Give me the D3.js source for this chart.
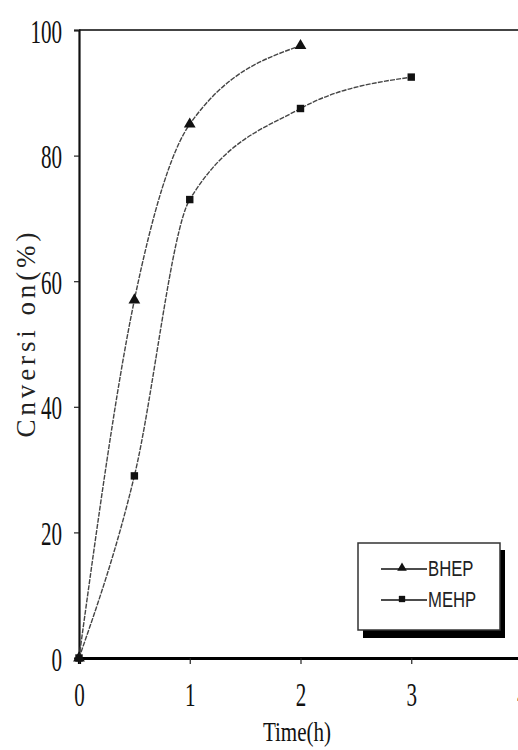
<!DOCTYPE html>
<html>
<head>
<meta charset="utf-8">
<script src="https://cdn.jsdelivr.net/npm/d3@7"></script>
<style>
  body { margin: 0; background: #fff; }
  svg { display: block; overflow: hidden; }
</style>
</head>
<body>
<div id="chart"></div>
<script>
// values
var timeH = [0, 0.5, 1, 2, 3]
var bhep = [0, 57, 85, 97.5]
var mehp = [0, 29, 73, 87.5, 92.5]
var xTicks = [0, 1, 2, 3, 4]
var yTicks = [0, 20, 40, 60, 80, 100]
var seriesNames = ['BHEP', 'MEHP']

var width_all = 518,
  height_all = 750

var svg = d3
  .select('#chart')
  .append('svg')
  .attr('width', width_all)
  .attr('height', height_all)

var x = d3.scaleLinear().domain([0, 4]).range([79, 522])
var y = d3.scaleLinear().domain([0, 100]).range([658, 30])

var series = [
  { name: seriesNames[0], values: bhep, symbol: d3.symbolTriangle },
  { name: seriesNames[1], values: mehp, symbol: d3.symbolSquare }
]

// top frame line
svg
  .append('line')
  .attr('x1', x(0))
  .attr('x2', width_all)
  .attr('y1', y(100))
  .attr('y2', y(100))
  .attr('stroke', '#444')
  .attr('stroke-width', 2.2)

// y axis
var yAxis = svg
  .append('g')
  .attr('transform', 'translate(' + x(0) + ',0)')
  .call(d3.axisLeft(y).tickValues(yTicks).tickSize(5).tickFormat(d3.format('d')))
yAxis.select('.domain').attr('stroke', '#111').attr('stroke-width', 2.2)
yAxis.selectAll('.tick line').attr('stroke', '#222').attr('stroke-width', 1.2)
yAxis
  .selectAll('.tick text')
  .attr('font-family', 'Liberation Serif, serif')
  .attr('font-size', 34)
  .attr('fill', '#111')
  .attr('x', 0)
  .attr('dy', 0)
  .attr('text-anchor', 'end')
  .attr('transform', 'translate(-17,12) scale(0.62,1)')

// x axis
var xAxis = svg
  .append('g')
  .attr('transform', 'translate(0,' + y(0) + ')')
  .call(d3.axisBottom(x).tickValues(xTicks).tickSize(6).tickFormat(d3.format('d')))
xAxis.select('.domain').attr('stroke', '#000').attr('stroke-width', 3.2)
xAxis.selectAll('.tick line').attr('stroke', '#222').attr('stroke-width', 1.2)
xAxis
  .selectAll('.tick text')
  .attr('font-family', 'Liberation Serif, serif')
  .attr('font-size', 34)
  .attr('fill', '#111')
  .attr('y', 0)
  .attr('dy', 0)
  .attr('transform', 'translate(0,48) scale(0.62,1)')

// axis titles
svg
  .append('text')
  .attr('transform', 'translate(297,741) scale(0.78,1)')
  .attr('text-anchor', 'middle')
  .attr('font-family', 'Liberation Serif, serif')
  .attr('font-size', 27)
  .attr('fill', '#111')
  .text('Time(h)')

svg
  .append('text')
  .attr('transform', 'translate(35,335) rotate(-90)')
  .attr('text-anchor', 'middle')
  .attr('font-family', 'Liberation Serif, serif')
  .attr('font-size', 27)
  .attr('fill', '#222')
  .attr('textLength', 205)
  .attr('lengthAdjust', 'spacing')
  .text('Cnversi on(%)')

// curves
var line = d3
  .line()
  .x((d, i) => x(timeH[i]))
  .y(d => y(d))
  .curve(d3.curveMonotoneX)

series.forEach(s => {
  svg
    .append('path')
    .datum(s.values)
    .attr('fill', 'none')
    .attr('stroke', '#444')
    .attr('stroke-width', 1.4)
    .attr('stroke-dasharray', '5,1.2')
    .attr('d', line)

  svg
    .append('g')
    .selectAll('path')
    .data(s.values)
    .enter()
    .append('path')
    .attr('transform', (d, i) => 'translate(' + x(timeH[i]) + ',' + y(d) + ')')
    .attr('d', d3.symbol().type(s.symbol).size(s.symbol === d3.symbolSquare ? 55 : 60))
    .attr('fill', '#111')
})

// legend with drop shadow
var legend = svg.append('g').attr('transform', 'translate(358,543)')
legend
  .append('rect')
  .attr('x', 5)
  .attr('y', 7)
  .attr('width', 142)
  .attr('height', 88)
  .attr('fill', '#000')
legend
  .append('rect')
  .attr('width', 142)
  .attr('height', 87)
  .attr('fill', '#fff')
  .attr('stroke', '#333')
  .attr('stroke-width', 1.5)

var item = legend
  .selectAll('g.item')
  .data(series)
  .enter()
  .append('g')
  .attr('class', 'item')
  .attr('transform', (d, i) => 'translate(0,' + (26 + i * 31) + ')')

item
  .append('line')
  .attr('x1', 23)
  .attr('x2', 69)
  .attr('stroke', '#111')
  .attr('stroke-width', 1.6)
item
  .append('path')
  .attr('transform', 'translate(44,-1)')
  .attr('d', d => d3.symbol().type(d.symbol).size(40)())
  .attr('fill', '#111')
item
  .append('text')
  .attr('transform', 'translate(70,7) scale(0.76,1)')
  .attr('font-family', 'Liberation Sans, Arial, sans-serif')
  .attr('font-size', 22)
  .attr('fill', '#222')
  .text(d => d.name)
</script>
</body>
</html>
